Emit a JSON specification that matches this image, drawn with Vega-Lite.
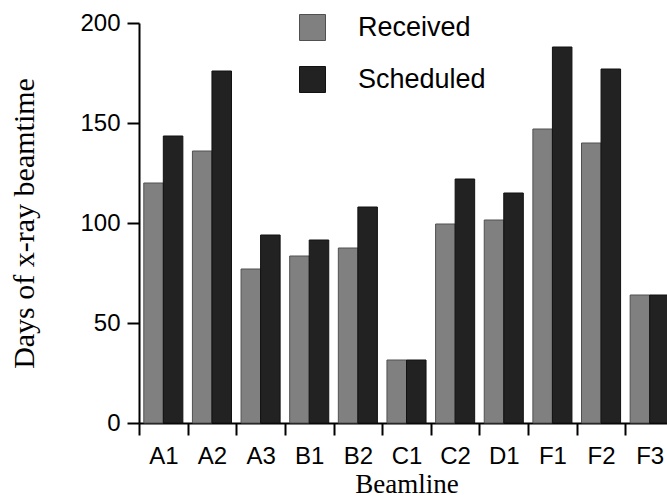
{
  "$schema": "https://vega.github.io/schema/vega-lite/v6.json",
  "width": 535,
  "height": 400,
  "autosize": {"type": "none"},
  "padding": {"left": 139, "top": 23, "right": -7, "bottom": 74},
  "background": "white",
  "data": {
    "values": [
      {"beamline": "A1", "series": "Received", "days": 120},
      {"beamline": "A1", "series": "Scheduled", "days": 143.5},
      {"beamline": "A2", "series": "Received", "days": 136},
      {"beamline": "A2", "series": "Scheduled", "days": 176},
      {"beamline": "A3", "series": "Received", "days": 77},
      {"beamline": "A3", "series": "Scheduled", "days": 94},
      {"beamline": "B1", "series": "Received", "days": 83.5},
      {"beamline": "B1", "series": "Scheduled", "days": 91.5},
      {"beamline": "B2", "series": "Received", "days": 87.5},
      {"beamline": "B2", "series": "Scheduled", "days": 108},
      {"beamline": "C1", "series": "Received", "days": 31.5},
      {"beamline": "C1", "series": "Scheduled", "days": 31.5},
      {"beamline": "C2", "series": "Received", "days": 99.5},
      {"beamline": "C2", "series": "Scheduled", "days": 122},
      {"beamline": "D1", "series": "Received", "days": 101.5},
      {"beamline": "D1", "series": "Scheduled", "days": 115},
      {"beamline": "F1", "series": "Received", "days": 147},
      {"beamline": "F1", "series": "Scheduled", "days": 188},
      {"beamline": "F2", "series": "Received", "days": 140},
      {"beamline": "F2", "series": "Scheduled", "days": 177},
      {"beamline": "F3", "series": "Received", "days": 64},
      {"beamline": "F3", "series": "Scheduled", "days": 64}
    ]
  },
  "mark": {"type": "bar", "strokeWidth": 1},
  "encoding": {
    "x": {
      "field": "beamline",
      "type": "nominal",
      "sort": null,
      "scale": {"paddingInner": 0, "paddingOuter": 0},
      "axis": {
        "title": "Beamline",
        "labelAngle": 0,
        "tickBand": "extent",
        "domainColor": "black",
        "domainWidth": 2,
        "tickColor": "black",
        "tickWidth": 2,
        "tickSize": 12,
        "labelFont": "Liberation Sans",
        "labelFontSize": 24,
        "labelColor": "black",
        "labelPadding": 9,
        "titleFont": "Liberation Serif",
        "titleFontSize": 27,
        "titleFontWeight": "normal",
        "titleColor": "black",
        "titlePadding": 3
      }
    },
    "xOffset": {
      "field": "series",
      "type": "nominal",
      "sort": ["Received", "Scheduled"],
      "scale": {"paddingInner": 0, "paddingOuter": 0.245}
    },
    "y": {
      "field": "days",
      "type": "quantitative",
      "scale": {"domain": [0, 200]},
      "axis": {
        "title": "Days of x-ray beamtime",
        "values": [0, 50, 100, 150, 200],
        "grid": false,
        "domainColor": "black",
        "domainWidth": 2,
        "tickColor": "black",
        "tickWidth": 2,
        "tickSize": 12,
        "labelFont": "Liberation Sans",
        "labelFontSize": 24,
        "labelColor": "black",
        "labelPadding": 7,
        "titleFont": "Liberation Serif",
        "titleFontSize": 30,
        "titleFontWeight": "normal",
        "titleColor": "black",
        "titlePadding": 40
      }
    },
    "color": {
      "field": "series",
      "type": "nominal",
      "scale": {"domain": ["Received", "Scheduled"], "range": ["#808080", "#222222"]},
      "legend": {
        "orient": "none",
        "legendX": 160,
        "legendY": -9,
        "title": null,
        "padding": 0,
        "symbolType": "square",
        "symbolSize": 676,
        "symbolStrokeColor": "#333333",
        "symbolStrokeWidth": 1,
        "labelFont": "Liberation Sans",
        "labelFontSize": 27,
        "labelColor": "black",
        "labelOffset": 32,
        "rowPadding": 21
      }
    },
    "stroke": {
      "field": "series",
      "type": "nominal",
      "scale": {"domain": ["Received", "Scheduled"], "range": ["#505050", "#111111"]},
      "legend": null
    }
  },
  "config": {"view": {"stroke": null}}
}
